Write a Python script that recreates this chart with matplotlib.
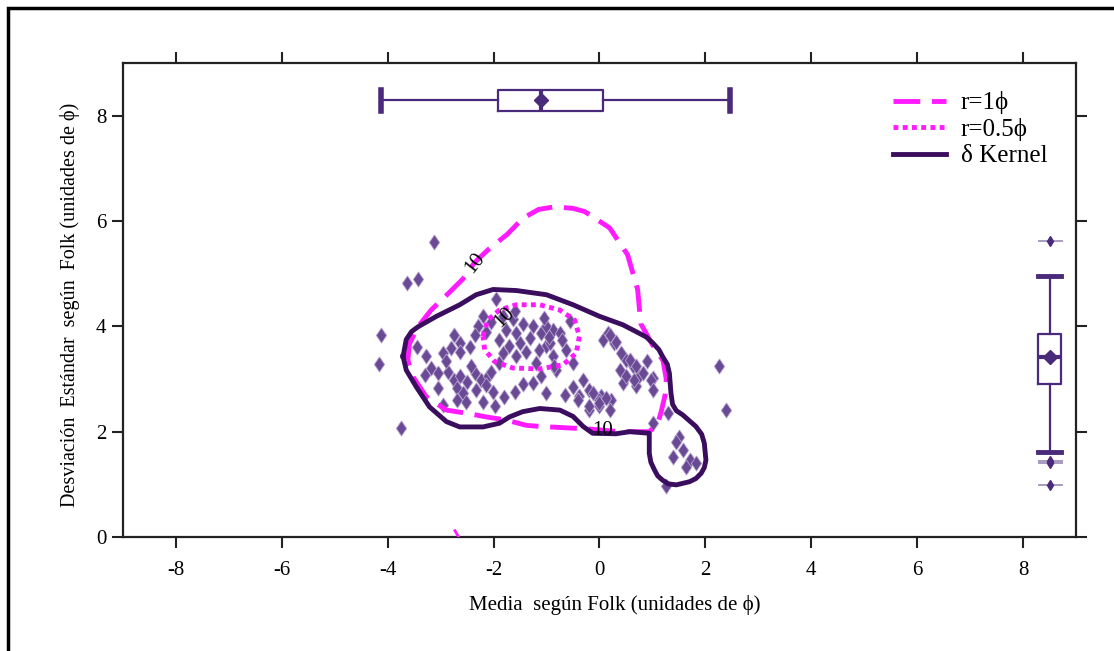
"""
media vs desviacion estandar (Folk) con contornos de densidad y boxplots marginales
"""
import matplotlib.pyplot as plt
from matplotlib.patches import Rectangle

plt.rcParams['font.family'] = ['Liberation Serif', 'DejaVu Serif']
plt.rcParams['axes.unicode_minus'] = False

# puntos (media, desviacion)
media = [-3.13, -3.63, -3.43, -4.12, -4.17, -3.74, 2.25, 2.39,
         -1.95, -2.20, -2.04, -2.30, -2.36, -2.14, -1.83, -1.64, -1.76, -1.57, -1.89,
         -1.70, -1.51, -1.83, -1.57, -1.38, -1.26, -1.32, -1.10, -1.01, -0.88, -0.88,
         -2.74, -2.64, -2.80, -2.96, -2.64, -3.27, -3.18, -3.30, -3.05, -2.86,
         -2.74, -2.64, -2.70, -2.58, -2.70, -2.52, -2.36, -2.23, -2.11, -2.04,
         -2.33, -2.14, -2.01, -2.20, -1.98, -1.60, -1.26, -1.10, -1.01, -2.42, -3.05,
         -1.01, -0.75, -0.94, -0.63, -0.50, -0.82, -0.31, 0.06, 0.28, 0.16,
         0.38, 0.50, 0.63, 0.44, 0.69, 0.75, 1.01, -0.38, -0.19, 0.03,
         0.22, 0.00, 0.19, -0.19, 0.00, 1.01, 1.29, 1.51, 1.57, 1.38, 1.70, 1.83, 1.26, 1.64,
         0.19, 0.31, 0.41, 0.57, 0.69, 0.50, 0.66, 0.82, 0.97, 1.01, -0.13, 0.00, 0.13,
         -0.19, -0.41, -0.50,
         -1.45, -1.05, -0.70, -1.20, -1.90, -2.45, -0.55, -1.60, -1.15, -0.85,
         -2.90, -3.45, -2.50, -1.45, -0.65, 0.90, 1.45, -2.95, -1.80, -0.95]
desv = [5.61, 4.82, 4.90, 3.84, 3.29, 2.07, 3.24, 2.41,
        4.51, 4.19, 4.09, 4.00, 3.84, 3.90, 4.19, 4.13, 3.93, 3.87, 3.74,
        3.62, 3.68, 3.49, 3.43, 3.52, 4.00, 3.78, 3.87, 3.62, 3.93, 3.43,
        3.84, 3.68, 3.59, 3.49, 3.52, 3.43, 3.21, 3.08, 3.11, 3.14,
        2.98, 3.05, 2.83, 2.73, 2.60, 2.57, 3.11, 2.98, 3.05, 3.14,
        2.79, 2.89, 2.76, 2.57, 2.48, 2.76, 2.92, 3.05, 2.73, 3.24, 2.83,
        4.00, 3.87, 3.68, 3.55, 3.30, 3.17, 2.98, 3.74, 3.68, 3.87,
        3.17, 3.36, 3.24, 2.92, 2.86, 3.05, 3.02, 2.67, 2.80, 2.67,
        2.60, 2.48, 2.41, 2.41, 2.60, 2.16, 2.35, 1.90, 1.65, 1.52, 1.46, 1.40, 0.96, 1.33,
        3.84, 3.71, 3.49, 3.36, 3.24, 3.05, 2.98, 3.11, 2.98, 2.79, 2.73, 2.54, 2.64,
        2.48, 2.60, 2.85,
        4.05, 4.15, 3.75, 3.30, 3.30, 3.60, 4.10, 4.30, 3.55, 3.25,
        3.35, 3.60, 2.95, 2.90, 2.70, 3.35, 1.80, 2.50, 2.65, 3.80]

# contorno kernel (nivel 10)
kernel_x = [-3.71, -3.65, -3.55, -3.43, -3.08, -2.64, -2.33, -2.01, -1.57, -1.00, -0.50, 0.00,
            0.44, 0.69, 0.88, 1.01, 1.12, 1.19, 1.28, 1.32, 1.35, 1.38, 1.45, 1.57, 1.82,
            1.93, 1.98, 2.01, 1.98, 1.92, 1.82, 1.70,
            1.45, 1.30, 1.19, 1.10, 1.04, 0.97, 0.94, 0.94, 0.57, 0.31, -0.13, -0.31, -0.50,
            -0.75, -1.13, -1.45, -1.70, -1.89, -2.20, -2.64, -2.89, -3.21, -3.46, -3.65, -3.71]
kernel_y = [3.43, 3.75, 3.90, 3.99, 4.19, 4.41, 4.60, 4.70, 4.68, 4.60, 4.41, 4.19,
            4.03, 3.90, 3.80, 3.68, 3.56, 3.43, 3.28, 3.11, 2.73, 2.52, 2.40, 2.32, 2.10,
            1.95, 1.78, 1.46, 1.32, 1.21, 1.11, 1.05,
            0.99, 1.01, 1.08, 1.16, 1.27, 1.42, 1.59, 1.97, 2.00, 1.96, 1.97, 2.10, 2.29,
            2.41, 2.44, 2.38, 2.28, 2.16, 2.09, 2.09, 2.19, 2.47, 2.85, 3.17, 3.43]

# contorno r=1 phi
r1_x = [-3.62, -3.59, -3.43, -3.18, -2.86, -2.58, -2.36, -2.11, -1.74, -1.45, -1.15,
        -0.85, -0.50, -0.28, 0.19, 0.53, 0.72, 0.78, 1.00, 1.20, 1.26, 1.24, 1.17,
        1.10, 0.94, 0.38, -0.19, -0.75, -1.13, -1.38, -1.76, -2.14, -2.45, -2.89,
        -3.27, -3.52, -3.62]
r1_y = [3.36, 3.67, 3.99, 4.31, 4.62, 4.90, 5.21, 5.45, 5.75, 6.05, 6.22,
        6.27, 6.24, 6.18, 5.87, 5.36, 4.70, 4.05, 3.65, 3.35, 3.00, 2.70, 2.40,
        2.15, 2.00, 2.00, 2.05, 2.08, 2.10, 2.12, 2.22, 2.28, 2.34, 2.41,
        2.66, 3.04, 3.36]
r1_tail_x = [-2.73, -2.66]
r1_tail_y = [0.12, 0.0]

# contorno r=0.5 phi
r05_x = [-2.20, -2.11, -1.89, -1.57, -1.13, -0.75, -0.47, -0.38, -0.44, -0.69,
         -1.13, -1.64, -1.98, -2.17, -2.20]
r05_y = [3.81, 4.12, 4.31, 4.41, 4.41, 4.31, 4.12, 3.81, 3.49, 3.27,
         3.19, 3.21, 3.33, 3.56, 3.81]

# estadisticos de los boxplots marginales
box_media = dict(whislo=-4.13, q1=-1.91, med=-1.11, q3=0.06, whishi=2.47,
                 mean=-1.11, fliers=[])
box_desv = dict(whislo=1.62, q1=2.91, med=3.42, q3=3.86, whishi=4.96,
                mean=3.42, fliers=[5.62, 1.45, 1.40, 0.99])

x_ticks = [-8, -6, -4, -2, 0, 2, 4, 6, 8]
y_ticks = [0, 2, 4, 6, 8]

purple = '#3b0d5e'
boxcol = '#4a2a7a'
magenta = '#ff1aff'

fig = plt.figure(figsize=(11.14, 6.51), dpi=100)
ax = fig.add_axes([0.1104, 0.1751, 0.8555, 0.7281])

diamond = [(0, 1), (0.68, 0), (0, -1), (-0.68, 0), (0, 1)]
ax.scatter(media, desv, marker=diamond, s=120, c='#6a4a95', edgecolors='#b6a3d0',
           linewidths=0.6, zorder=2)

ax.plot(r1_x, r1_y, color=magenta, lw=3.5, dashes=(5.5, 2.4), label='r=1ϕ', zorder=3)
ax.plot(r1_tail_x, r1_tail_y, color=magenta, lw=2, zorder=3)
ax.plot(r05_x, r05_y, color=magenta, lw=3.5, ls=(0, (1, 0.9)), label='r=0.5ϕ', zorder=3)
ax.plot(kernel_x, kernel_y, color=purple, lw=3.5, label='δ Kernel', zorder=4,
        solid_joinstyle='round')

ax.text(-2.36, 5.21, '10', rotation=52, fontsize=15, ha='center', va='center', zorder=5)
ax.text(-1.79, 4.16, '10', rotation=45, fontsize=15, ha='center', va='center', zorder=5)
ax.text(0.05, 2.02, '10', fontsize=15, ha='center', va='center', zorder=5)

# boxplot horizontal arriba (media)
ax.bxp([box_media], positions=[8.29], widths=0.4, capwidths=[0.4],
       orientation='horizontal', showmeans=True, showfliers=False, manage_ticks=False,
       boxprops=dict(color=boxcol, lw=1.6), whiskerprops=dict(color=boxcol, lw=1.6),
       capprops=dict(color=boxcol, lw=4), medianprops=dict(color=boxcol, lw=3),
       meanprops=dict(marker='D', mfc=boxcol, mec=boxcol, ms=7))

# boxplot vertical a la derecha (desviacion)
ax.plot([8.5] * len(box_desv['fliers']), box_desv['fliers'], ls='none', marker='_',
        ms=18, mew=1.2, color='#9a8ab5', zorder=1)
ax.bxp([box_desv], positions=[8.5], widths=0.43, capwidths=[0.43],
       showmeans=True, showfliers=True, manage_ticks=False,
       boxprops=dict(color=boxcol, lw=1.6), whiskerprops=dict(color=boxcol, lw=1.6),
       capprops=dict(color=boxcol, lw=3.5), medianprops=dict(color=boxcol, lw=3),
       meanprops=dict(marker='D', mfc=boxcol, mec=boxcol, ms=7),
       flierprops=dict(marker='d', mfc=boxcol, mec=boxcol, ms=5))

ax.set_xlim(-9, 9)
ax.set_ylim(0, 9)
ax.set_xticks(x_ticks)
ax.set_yticks(y_ticks)
ax.tick_params(direction='out', length=8, width=1.5, color='#222222', top=True,
               right=True, labeltop=False, labelright=False, labelsize=15)
ax.tick_params(axis='x', pad=9)
ax.tick_params(axis='y', pad=4)
for spine in ax.spines.values():
    spine.set_linewidth(1.6)
    spine.set_color('#222222')

ax.legend(loc='upper left', bbox_to_anchor=(0.808, 0.94), frameon=False, fontsize=18,
          handlelength=2.1, handletextpad=0.6, labelspacing=0.15, borderpad=0,
          borderaxespad=0)

fig.text(615 / 1114, 1 - 605 / 651, 'Media  según Folk (unidades de ϕ)', fontsize=15,
         ha='center', va='center')
fig.text(70 / 1114, 1 - 305 / 651, 'Desviación  Estándar  según  Folk (unidades de ϕ)',
         fontsize=14.5, ha='center', va='center', rotation=90)

fig.add_artist(Rectangle((8 / 1114, -0.05), 1.2, 1.0377, transform=fig.transFigure,
                         fill=False, lw=2.5, ec='black'))

fig.savefig('out.png', dpi=100)
